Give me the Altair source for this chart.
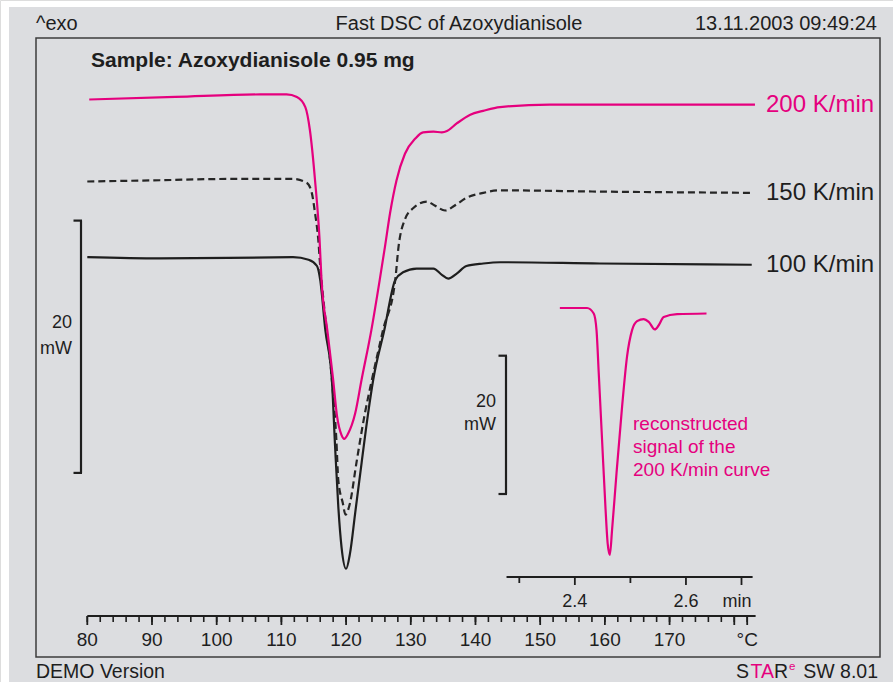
import altair as alt
import pandas as pd

# ---------------- data ----------------
# main curves: sample temperature (°C) vs heat flow (mW, curves shifted for display)
T200 = [80.3, 93.6, 106.7, 110.8, 112.4, 113.7, 114.4, 115.2, 115.9, 116.2, 117.1, 118.0, 118.6,
        119.3, 119.7, 120.3, 121.4, 122.4, 123.9, 125.2, 126.0, 126.8, 127.8, 129.1, 130.7, 131.9,
        133.5, 134.8, 135.6, 137.1, 139.2, 141.2, 143.8, 151.5, 167.0, 183.2]
Q200 = [29.6, 29.8, 30.0, 30.0, 29.8, 29.0, 27.2, 23.2, 18.5, 15.3, 11.3, 7.4, 4.5,
        3.0, 2.7, 3.1, 4.7, 7.4, 11.3, 15.3, 17.9, 20.6, 23.2, 25.3, 26.5, 27.0,
        27.05, 27.0, 27.1, 27.7, 28.4, 28.7, 29.0, 29.2, 29.2, 29.2]

T150 = [80.0, 91.2, 101.6, 111.8, 113.9, 114.7, 115.2, 115.7, 116.0, 116.5, 117.8, 118.5, 118.8,
        119.5, 119.9, 120.6, 121.6, 122.9, 124.0, 125.7, 127.6, 128.1, 129.1, 130.4, 132.5, 133.7,
        135.3, 136.8, 138.6, 141.2, 143.8, 159.2, 182.9]
Q150 = [23.1, 23.2, 23.3, 23.3, 23.0, 22.2, 20.6, 18.5, 16.4, 13.7, 7.4, 2.6, -0.6,
        -2.4, -3.3, -2.4, 0.8, 4.7, 7.4, 11.3, 15.3, 17.9, 20.1, 21.0, 21.5, 21.2,
        20.8, 21.2, 21.8, 22.2, 22.4, 22.3, 22.2]

T100 = [80.0, 91.2, 111.8, 114.2, 115.5, 116.0, 116.8, 117.8, 118.3, 118.8, 119.3, 120.0, 120.6,
        121.4, 122.4, 123.4, 124.2, 125.9, 127.6, 128.8, 130.9, 133.5, 134.8, 135.8, 137.1, 138.6,
        141.2, 143.8, 159.2, 182.7]
Q100 = [17.1, 17.0, 17.1, 16.9, 16.4, 15.3, 11.3, 7.4, 2.1, -2.7, -5.9, -7.6, -6.4,
        -3.2, 0.8, 4.7, 7.4, 11.3, 15.3, 15.9, 16.2, 16.2, 15.7, 15.4, 15.8, 16.4,
        16.6, 16.7, 16.6, 16.5]

# inset: reconstructed signal of the 200 K/min curve, time (min) vs heat flow (mW)
t_rec = [2.373, 2.422, 2.434, 2.439, 2.443, 2.449, 2.455, 2.459, 2.463, 2.467, 2.475, 2.485,
         2.494, 2.503, 2.512, 2.524, 2.533, 2.544, 2.551, 2.560, 2.584, 2.637]
q_rec = [26.9, 26.9, 26.1, 23.7, 17.5, 7.8, -1.8, -7.1, -8.8, -5.2, 3.0, 12.6,
         19.9, 23.7, 25.0, 25.3, 24.9, 23.8, 24.4, 25.6, 26.0, 26.1]

rates = ["200 K/min", "150 K/min", "100 K/min"]
rate_end_q = [29.2, 22.2, 16.5]

major_T = [80, 90, 100, 110, 120, 130, 140, 150, 160, 170, 180, 182]
minor_T = list(range(80, 183, 2))
label_T = [80, 90, 100, 110, 120, 130, 140, 150, 160, 170, 182]
label_txt = ["80", "90", "100", "110", "120", "130", "140", "150", "160", "170", "°C"]
axis_span_T = [80, 183.3]

inset_major = [2.4, 2.6, 2.7]
inset_minor = [2.3, 2.5]
inset_label_t = [2.4, 2.6]
inset_label_txt = ["2.4", "2.6"]
inset_axis_span = [2.277, 2.72]

scale_bar_mW = [0, 20]

# ---------------- style ----------------
MAGENTA = "#e5007e"
INK = "#1e1e1e"
BG = "#dcdde0"
FRAME = "#3c3c3c"
FONT = "Liberation Sans"

W, H = 893, 682

xs = alt.Scale(domain=[80, 182], range=[87.3, 747.2], nice=False, zero=False)
ys = alt.Scale(domain=[0, 20], range=[472.9, 220.6], nice=False, zero=False)
xsi = alt.Scale(domain=[2.3, 2.7], range=[519.3, 741.5], nice=False, zero=False)
ysi = alt.Scale(domain=[0, 20], range=[494.0, 355.7], nice=False, zero=False)


def X(f, s):
    return alt.X(f, type="quantitative", scale=s, axis=None)


def Y(f, s):
    return alt.Y(f, type="quantitative", scale=s, axis=None)


one = pd.DataFrame({"a": [0]})


def text(txt, x, y, size, color=INK, align="left", baseline="alphabetic", weight="normal"):
    return alt.Chart(one).mark_text(
        text=txt, fontSize=size, font=FONT, color=color, align=align,
        baseline=baseline, fontWeight=weight
    ).encode(x=alt.value(x), y=alt.value(y))


# ---------------- decorations ----------------
bg = alt.Chart(one).mark_rect(color=BG).encode(
    x=alt.value(9), x2=alt.value(W), y=alt.value(7), y2=alt.value(H))
frame = alt.Chart(one).mark_rect(fill=None, stroke=FRAME, strokeWidth=1.5).encode(
    x=alt.value(36), x2=alt.value(880), y=alt.value(38), y2=alt.value(657))

header = [
    text("^exo", 36, 30, 20),
    text("Fast DSC of Azoxydianisole", 459, 30, 20, align="center"),
    text("13.11.2003 09:49:24", 877, 30, 20, align="right"),
    text("Sample: Azoxydianisole 0.95 mg", 91, 67, 21, weight="bold"),
    text("DEMO Version", 36, 678, 19.5),
    text("S", 749, 678, 19.5, align="right"),
    text("TA", 774, 678, 19.5, color=MAGENTA, align="right"),
    text("R", 788, 678, 19.5, align="right"),
    text("e", 789, 670, 11.5, color=MAGENTA),
    text("SW 8.01", 878, 678, 19.5, align="right"),
]

# ---------------- main curves ----------------
def curve(T, Q, color, dash=None):
    df = pd.DataFrame({"T": T, "Q": Q})
    kw = dict(color=color, strokeWidth=2.2, interpolate="monotone")
    if dash:
        kw["strokeDash"] = dash
    return alt.Chart(df).mark_line(**kw).encode(x=X("T", xs), y=Y("Q", ys))


c100 = curve(T100, Q100, INK)
c150 = curve(T150, Q150, "#262626", dash=[7, 4])
c200 = curve(T200, Q200, MAGENTA)

lab_df = pd.DataFrame({"rate": rates, "q": rate_end_q, "c": [MAGENTA, INK, INK]})
rate_labels = alt.Chart(lab_df).mark_text(
    fontSize=24, font=FONT, align="left", baseline="middle"
).encode(x=alt.value(766), y=Y("q", ys), text="rate:N", color=alt.Color("c:N", scale=None))

# main temperature axis
axis_line = alt.Chart(pd.DataFrame({"t0": [axis_span_T[0]], "t1": [axis_span_T[1]]})).mark_rule(
    color=INK, strokeWidth=2).encode(x=X("t0", xs), x2="t1", y=alt.value(616))
minor_ticks = alt.Chart(pd.DataFrame({"T": minor_T})).mark_rule(color=INK, strokeWidth=1.6).encode(
    x=X("T", xs), y=alt.value(616), y2=alt.value(622))
major_ticks = alt.Chart(pd.DataFrame({"T": major_T})).mark_rule(color=INK, strokeWidth=1.8).encode(
    x=X("T", xs), y=alt.value(616), y2=alt.value(625))
tick_labels = alt.Chart(pd.DataFrame({"T": label_T, "s": label_txt})).mark_text(
    fontSize=19, font=FONT, color=INK, baseline="middle", align="center").encode(
    x=X("T", xs), y=alt.value(639.5), text="s:N")

# main 20 mW scale bar
bar_df = pd.DataFrame({"lo": [scale_bar_mW[0]], "hi": [scale_bar_mW[1]]})
hook_df = pd.DataFrame({"v": scale_bar_mW})
bar = alt.Chart(bar_df).mark_rule(color=INK, strokeWidth=2.2).encode(
    x=alt.value(81), y=Y("lo", ys), y2="hi")
hooks = alt.Chart(hook_df).mark_rule(color=INK, strokeWidth=2.2).encode(
    x=alt.value(73.5), x2=alt.value(82), y=Y("v", ys))
bar_txt = [text("20", 72, 323, 18, align="right", baseline="middle"),
           text("mW", 72, 349, 18, align="right", baseline="middle")]

main = alt.layer(bg, frame, *header, c100, c150, c200, rate_labels,
                 axis_line, minor_ticks, major_ticks, tick_labels,
                 bar, hooks, *bar_txt)

# ---------------- inset ----------------
rec = alt.Chart(pd.DataFrame({"t": t_rec, "q": q_rec})).mark_line(
    color=MAGENTA, strokeWidth=2.2, interpolate="monotone").encode(x=X("t", xsi), y=Y("q", ysi))
i_axis = alt.Chart(pd.DataFrame({"t0": [inset_axis_span[0]], "t1": [inset_axis_span[1]]})).mark_rule(
    color=INK, strokeWidth=2).encode(x=X("t0", xsi), x2="t1", y=alt.value(577))
i_minor = alt.Chart(pd.DataFrame({"t": inset_minor})).mark_rule(color=INK, strokeWidth=1.8).encode(
    x=X("t", xsi), y=alt.value(577), y2=alt.value(583))
i_major = alt.Chart(pd.DataFrame({"t": inset_major})).mark_rule(color=INK, strokeWidth=1.8).encode(
    x=X("t", xsi), y=alt.value(577), y2=alt.value(585))
i_labels = alt.Chart(pd.DataFrame({"t": inset_label_t, "s": inset_label_txt})).mark_text(
    fontSize=18, font=FONT, color=INK, baseline="middle", align="center").encode(
    x=X("t", xsi), y=alt.value(602), text="s:N")
i_min = text("min", 737, 602, 18, align="center", baseline="middle")

i_bar = alt.Chart(bar_df).mark_rule(color=INK, strokeWidth=2.2).encode(
    x=alt.value(506), y=Y("lo", ysi), y2="hi")
i_hooks = alt.Chart(hook_df).mark_rule(color=INK, strokeWidth=2.2).encode(
    x=alt.value(498.5), x2=alt.value(507), y=Y("v", ysi))
i_bar_txt = [text("20", 496, 402, 18, align="right", baseline="middle"),
             text("mW", 496, 425, 18, align="right", baseline="middle")]
i_note = alt.Chart(one).mark_text(
    text=["reconstructed", "signal of the", "200 K/min curve"], fontSize=19, font=FONT,
    color=MAGENTA, align="left", baseline="alphabetic", lineHeight=23
).encode(x=alt.value(633), y=alt.value(430))

inset = alt.layer(rec, i_axis, i_minor, i_major, i_labels, i_min, i_bar, i_hooks, *i_bar_txt, i_note)

chart = alt.layer(main, inset).resolve_scale(x="independent", y="independent").properties(
    width=W, height=H, autosize=alt.AutoSizeParams(type="none"), padding=0
).configure_view(stroke=None).configure(background="white")

chart.save("out.html", embed_options={"renderer": "svg", "actions": False})
